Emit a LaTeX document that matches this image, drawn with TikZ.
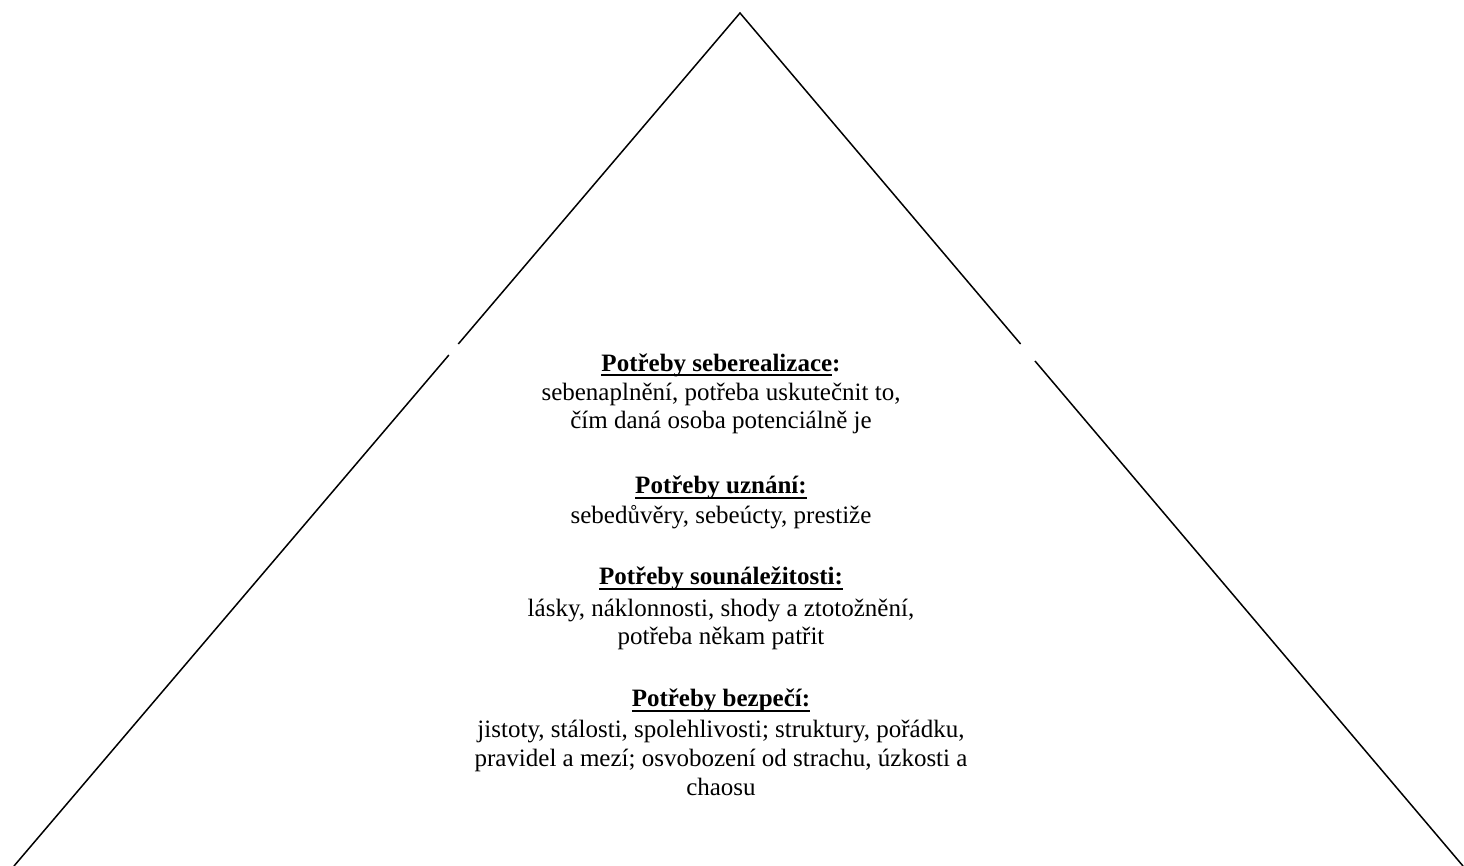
\documentclass[tikz,border=0pt]{standalone}
\usepackage{fontspec}
\setmainfont{Liberation Serif}
\newcommand\ulin[1]{\setbox0\hbox{#1}\rlap{\rule[-2.4pt]{\wd0}{0.9pt}}\box0}
\tikzset{hd/.style = {anchor=base, inner sep=0pt, font=\fontsize{12.5}{14.35}\selectfont\bfseries},
         tx/.style = {anchor=base, inner sep=0pt, align=center, font=\fontsize{12.5}{14.35}\selectfont}}

\begin{document}
\begin{tikzpicture}[x=0.5pt, y=-0.5pt, line width=0.75pt]
    \useasboundingbox (0,0) rectangle (1464,866);
    \coordinate (apex) at (740,13);
    \coordinate (lbase) at (14,866);  \coordinate (rbase) at (1463,866);
    \coordinate (la) at (458.3,344);  \coordinate (lb) at (448.9,355);
    \coordinate (ra) at (1020.6,344); \coordinate (rb) at (1035,361);
    \draw (la) -- (apex) -- (ra);
    \draw (lb) -- (lbase);
    \draw (rb) -- (rbase);
    % base of a text block = baseline of its last line
    \node[hd] (self) at (721,371.5) {\ulin{Potřeby seberealizace}:};
    \node[tx] (selft) at (721,429) {sebenaplnění, potřeba uskutečnit to,\\čím daná osoba potenciálně je};
    \node[hd] (est) at (721,494) {\ulin{Potřeby uznání:}};
    \node[tx] (estt) at (721,523.3) {sebedůvěry, sebeúcty, prestiže};
    \node[hd] (soc) at (721,585) {\ulin{Potřeby sounáležitosti:}};
    \node[tx] (soct) at (721,645) {lásky, náklonnosti, shody a ztotožnění,\\potřeba někam patřit};
    \node[hd] (bez) at (721,706.7) {\ulin{Potřeby bezpečí:}};
    \node[tx] (bezt) at (721,795) {jistoty, stálosti, spolehlivosti; struktury, pořádku,\\pravidel a mezí; osvobození od strachu, úzkosti a\\chaosu};
\end{tikzpicture}
\end{document}
